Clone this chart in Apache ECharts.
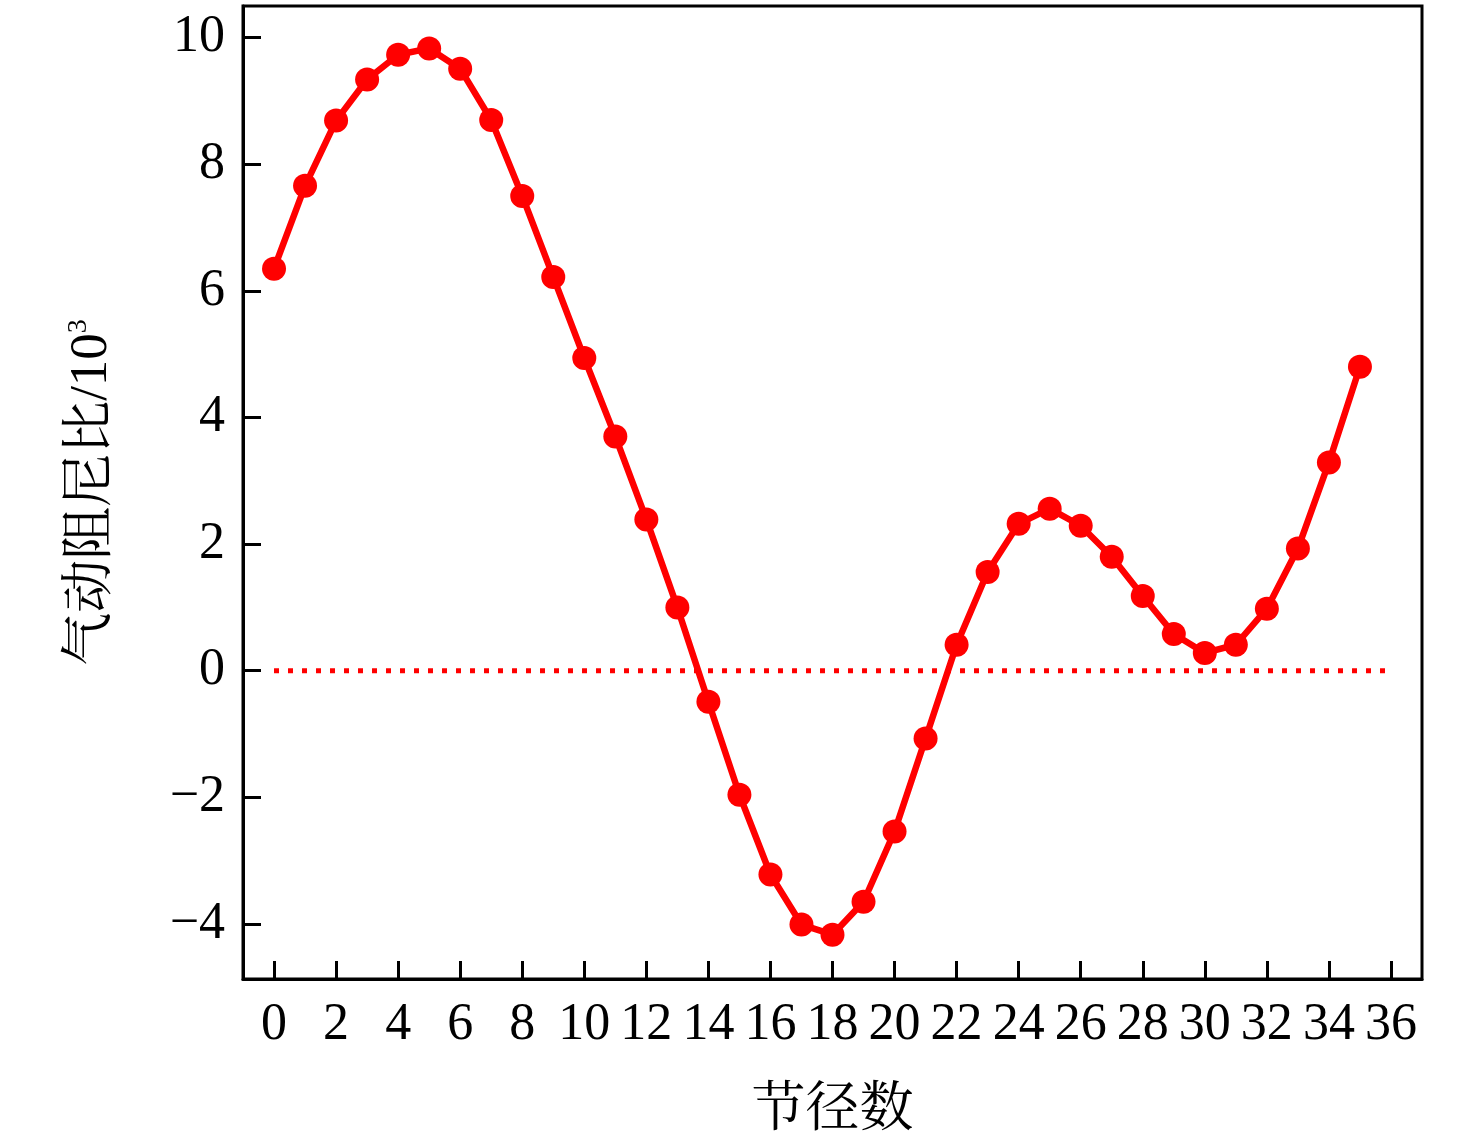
<!DOCTYPE html>
<html><head><meta charset="utf-8">
<script src="https://cdn.jsdelivr.net/npm/echarts@6/dist/echarts.min.js"></script>
<style>html,body{margin:0;padding:0;background:#fff}#c{width:1476px;height:1144px}</style>
</head><body><div id="c"></div>
<script>
const nodalDiameters = [0,1,2,3,4,5,6,7,8,9,10,11,12,13,14,15,16,17,18,19,20,21,22,23,24,25,26,27,28,29,30,31,32,33,34,35];
const dampingRatio = [6.35,7.66,8.69,9.34,9.73,9.83,9.51,8.70,7.50,6.22,4.94,3.70,2.39,1.00,-0.49,-1.96,-3.22,-4.01,-4.17,-3.65,-2.54,-1.07,0.41,1.56,2.32,2.56,2.29,1.80,1.18,0.58,0.28,0.41,0.98,1.93,3.29,4.80];
const zeroLineX = [0,36];
const zeroLineY = [0,0];
const xTicks = [0,2,4,6,8,10,12,14,16,18,20,22,24,26,28,30,32,34,36];
const yTicks = [-4,-2,0,2,4,6,8,10];

const FONT = '"Liberation Serif","Noto Serif CJK SC","Noto Sans CJK SC",serif';
const chart = echarts.init(document.getElementById('c'));
chart.setOption({
  animation:false,
  grid:{left:243,right:54,top:6,bottom:165,show:true,borderColor:'#000',borderWidth:3,backgroundColor:'transparent'},
  xAxis:{
    type:'value',min:-1,max:37,
    name:'节径数',nameLocation:'middle',nameGap:106,
    nameTextStyle:{fontFamily:FONT,fontSize:54,color:'#000'},
    axisLine:{show:true,onZero:false,lineStyle:{color:'#000',width:3}},
    axisTick:{show:true,inside:true,length:18,lineStyle:{color:'#000',width:3},customValues:xTicks},
    axisLabel:{customValues:xTicks,margin:20,fontFamily:FONT,fontSize:52,color:'#000',hideOverlap:false},
    splitLine:{show:false}
  },
  yAxis:{
    type:'value',min:-4.87,max:10.5,
    name:'{a|气动阻尼比/10}{s|3}',nameLocation:'middle',nameGap:124,
    nameTextStyle:{rich:{a:{fontFamily:FONT,fontSize:53,color:'#000'},s:{fontFamily:FONT,fontSize:28,color:'#000',verticalAlign:'top',padding:[0,0,26,0]}}},
    axisLine:{show:true,onZero:false,lineStyle:{color:'#000',width:3}},
    axisTick:{show:true,inside:true,length:18,lineStyle:{color:'#000',width:3},customValues:yTicks},
    axisLabel:{customValues:yTicks,margin:18,fontFamily:FONT,fontSize:52,color:'#000',
      formatter:v=>v<0?'\u2212'+Math.abs(v):String(v)},
    splitLine:{show:false}
  },
  series:[
    {type:'line',data:zeroLineX.map((x,i)=>[x,zeroLineY[i]]),symbol:'none',
     lineStyle:{color:'#f00',width:5,type:[5,9]},z:1},
    {type:'line',data:nodalDiameters.map((x,i)=>[x,dampingRatio[i]]),
     symbol:'circle',symbolSize:24,
     itemStyle:{color:'#f00'},lineStyle:{color:'#f00',width:6.5},z:2}
  ]
});
</script></body></html>
